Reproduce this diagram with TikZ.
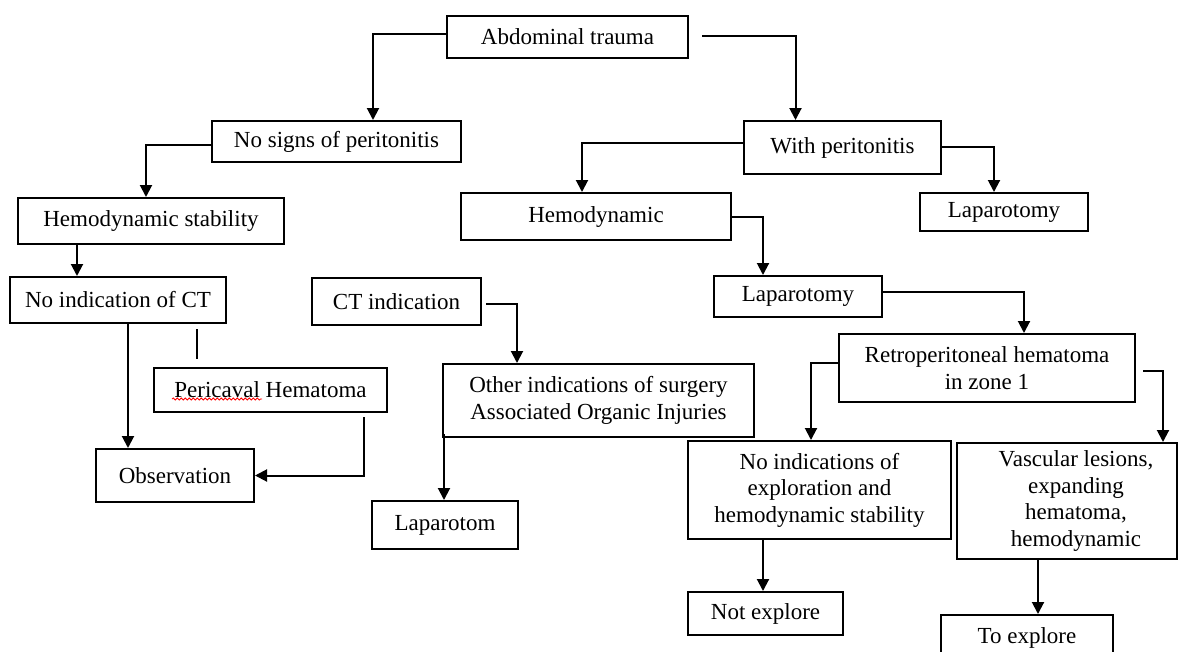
\documentclass[tikz,border=0pt]{standalone}
\usepackage{fontspec}
\setmainfont{Liberation Serif}
\usetikzlibrary{arrows.meta,decorations.pathmorphing}

\begin{document}
\begin{tikzpicture}[x=1pt, y=-1pt,
    box/.style={draw, line width=2pt, inner sep=0pt, align=center,
        font=\fontsize{23}{26.5}\selectfont},
    line/.style={line width=2pt},
    arr/.style={line width=2pt, -{Triangle[length=12pt,width=12pt]}}]
    \useasboundingbox (0,0) rectangle (1184,651);
    \clip (0,0) rectangle (1184,651);

    % top levels
    \node[box, minimum width=241pt, minimum height=42pt] (abd) at (567.5,37) {Abdominal trauma};
    \node[box, minimum width=249pt, minimum height=41pt] (nosig) at (336.5,141.5) {No signs of peritonitis};
    \node[box, minimum width=197pt, minimum height=53pt] (withp) at (842.5,147.5) {With peritonitis};

    % left branch
    \node[box, minimum width=266pt, minimum height=46pt] (hemst) at (151,221) {Hemodynamic stability};
    \node[box, minimum width=216pt, minimum height=46pt] (noct) at (118,300) {No indication of CT};
    \node[box, minimum width=169pt, minimum height=47pt] (ctind) at (396.5,301.5) {CT indication};
    \node[box, minimum width=233pt, minimum height=44pt] (peri) at (270.5,390) {Pericaval Hematoma};
    \node[box, minimum width=158pt, minimum height=53pt] (obs) at (175,475.5) {Observation};
    \node[box, minimum width=311pt, minimum height=73pt] (other) at (598.5,400.5)
        {Other indications of surgery\\Associated Organic Injuries};
    \node[box, minimum width=146pt, minimum height=48pt] (lapt) at (445,525) {Laparotom};

    % right branch
    \node[box, minimum width=270pt, minimum height=47pt] (hemo) at (596,216.5) {Hemodynamic};
    \node[box, minimum width=168pt, minimum height=38pt] (lapr) at (1004,212) {Laparotomy};
    \node[box, minimum width=168pt, minimum height=41pt] (lapm) at (798,296.5) {Laparotomy};
    \node[box, minimum width=296pt, minimum height=68pt] (retro) at (987,368)
        {Retroperitoneal hematoma\\in zone 1};
    \node[box, minimum width=263pt, minimum height=98pt] (noind) at (819.5,490)
        {No indications of\\exploration and\\hemodynamic stability};
    \node[box, minimum width=220pt, minimum height=116pt] (vasc) at (1067,501)
        {\hspace*{18pt}Vascular lesions,\\\hspace*{18pt}expanding\\\hspace*{18pt}hematoma,\\\hspace*{18pt}hemodynamic};
    \node[box, minimum width=155pt, minimum height=43pt] (notex) at (765.5,613.5) {Not explore};
    \node[box, minimum width=172pt, minimum height=46pt] (toex) at (1027,638) {To explore};

    % spell-check mark
    \draw[red, line width=0.8pt, decorate, decoration={snake, amplitude=1pt, segment length=4pt}]
        (172,399) -- (262,399);

    % connectors, top
    \draw[arr] ([yshift=3pt]abd.west) -| ([xshift=36.5pt]nosig.north);
    \draw[arr] ([xshift=13pt,yshift=1pt]abd.east) -| ([xshift=-47pt]withp.north);
    \draw[arr] ([yshift=-3.5pt]nosig.west) -| ([xshift=-5pt]hemst.north);
    \draw[arr] ([yshift=4.5pt]withp.west) -| ([xshift=-14pt]hemo.north);
    \draw[arr] ([yshift=0.5pt]withp.east) -| ([xshift=-10pt]lapr.north);
    \draw[arr] (hemo.east) -| ([xshift=-35pt]lapm.north);
    \draw[arr] ([yshift=4.5pt]lapm.east) -| ([xshift=37pt]retro.north);

    % connectors, left
    \draw[arr] ([xshift=-74pt]hemst.south) -- ([xshift=-74pt]hemst.south |- noct.north);
    \draw[arr] ([xshift=10pt]noct.south) -- ([xshift=10pt]noct.south |- obs.north);
    \coordinate (peritop) at ([yshift=8pt]peri.north);
    \draw[line] ([xshift=79pt,yshift=-5pt]noct.south) -- ([xshift=79pt]noct.south |- peritop);
    \draw[arr] ([xshift=93.5pt,yshift=-4pt]peri.south) |- (obs.east);
    \draw[arr] ([xshift=4pt,yshift=-2.5pt]ctind.east) -| ([xshift=-81.5pt]other.north);
    \draw[arr] ([xshift=2pt,yshift=4pt]other.south west) -- ([xshift=2pt]other.south west |- lapt.north);

    % connectors, right
    \draw[arr] ([yshift=5pt]retro.west) -| ([xshift=-8.5pt]noind.north);
    \draw[arr] ([xshift=7pt,yshift=-3pt]retro.east) -| ([xshift=96pt]vasc.north);
    \draw[arr] ([xshift=-56.5pt]noind.south) -- ([xshift=-56.5pt]noind.south |- notex.north);
    \draw[arr] ([xshift=-29pt]vasc.south) -- ([xshift=-29pt]vasc.south |- toex.north);
\end{tikzpicture}
\end{document}
